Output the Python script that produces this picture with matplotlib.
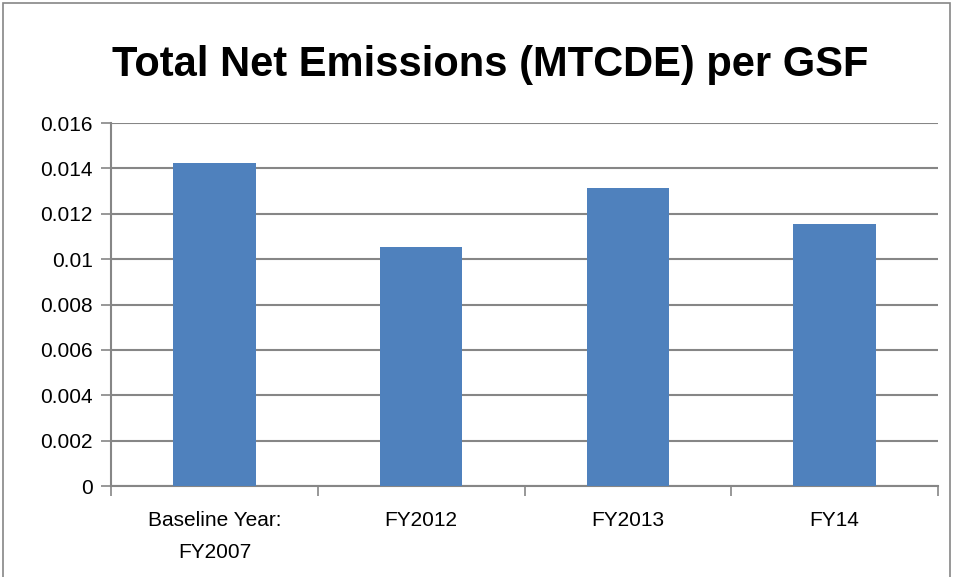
import numpy as np
import matplotlib.pyplot as plt
from matplotlib.patches import Rectangle

# chart data
categories = ["Baseline Year:\nFY2007", "FY2012", "FY2013", "FY14"]
emissions = [0.01422, 0.01052, 0.01314, 0.01154]
y_ticks = [0, 0.002, 0.004, 0.006, 0.008, 0.01, 0.012, 0.014, 0.016]
y_labels = ["0", "0.002", "0.004", "0.006", "0.008", "0.01", "0.012", "0.014", "0.016"]

plt.rcParams['font.family'] = ['Liberation Sans', 'DejaVu Sans']

fig = plt.figure(figsize=(9.54, 5.77), dpi=100)
ax = fig.add_axes([0.1164, 0.1577, 0.8668, 0.6291])

x = np.arange(len(categories))
ax.bar(x, emissions, width=0.4, color="#4F81BD", zorder=3)

ax.set_xlim(-0.5, len(categories) - 0.5)
ax.set_ylim(0, 0.016)
ax.set_yticks(y_ticks)
ax.set_yticklabels(y_labels, fontsize=15)
ax.set_xticks(x)
ax.set_xticklabels(categories, fontsize=15, linespacing=1.85)
ax.set_xticks(np.arange(-0.5, len(categories)), minor=True)

ax.tick_params(axis='x', which='major', length=0, pad=18)
ax.tick_params(axis='x', which='minor', length=7, color="#868686", width=1.2)
ax.tick_params(axis='y', length=7, color="#868686", width=1.2, pad=6)

ax.yaxis.grid(True, color="#868686", linewidth=1.5, zorder=0)
for side in ['top', 'right']:
    ax.spines[side].set_visible(False)
for side in ['left', 'bottom']:
    ax.spines[side].set_color("#868686")
    ax.spines[side].set_linewidth(1.5)

fig.text(0.514, 0.888, "Total Net Emissions (MTCDE) per GSF",
         ha='center', va='center', fontsize=30, fontweight='bold')

# outer chart border
fig.patches.append(Rectangle((0.003, -0.01), 0.993, 1.005, transform=fig.transFigure,
                             fill=False, edgecolor="#868686", linewidth=1.2))

fig.savefig("out.png", dpi=100)
